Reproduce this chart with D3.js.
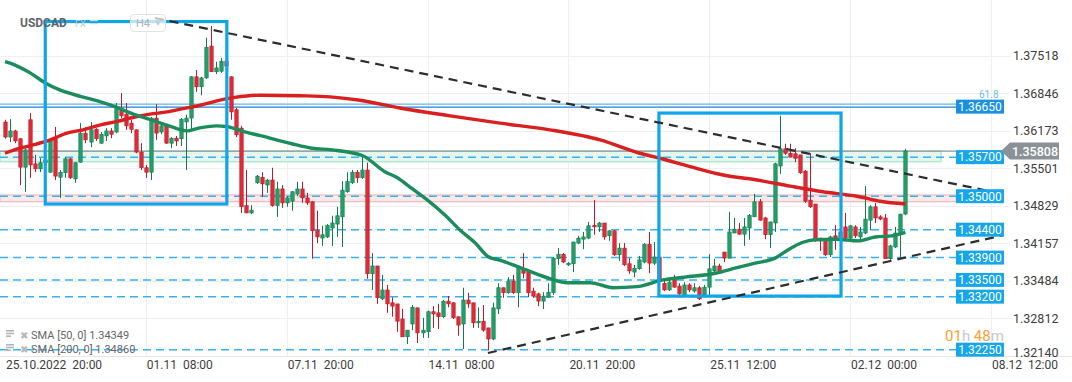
<!DOCTYPE html>
<html>
<head>
<meta charset="utf-8">
<script src="https://cdn.jsdelivr.net/npm/d3@7"></script>
<style>
body { margin: 0; background: #fff; }
svg { display: block; font-family: Roboto, "Noto Sans", sans-serif; }
text { white-space: pre; }
</style>
</head>
<body>
<script>
// USDCAD H4
const symbol = "USDCAD"
const timeLabels = ["25.10.2022  20:00", "01.11  08:00", "07.11  20:00", "14.11  08:00", "20.11  20:00", "25.11  12:00", "02.12  00:00", "08.12  12:00"]
const timeTickIdx = [0, 28, 56, 84, 112, 140, 168, 196]
const priceTicks = [1.37518, 1.36846, 1.36173, 1.35501, 1.34829, 1.34157, 1.33484, 1.32812, 1.32140]
const levels = [1.3570, 1.3500, 1.3440, 1.3390, 1.3350, 1.3320, 1.3225]
const fibLevel = 1.3665
const lastPrice = 1.35808

const open = [1.3633,1.3606,1.3617,1.3603,1.3552,1.3637,1.3558,1.3549,1.3560,1.3543,
1.3603,1.3534,1.3542,1.3567,1.3531,1.3561,1.3613,1.3597,1.3620,1.3595,
1.3608,1.3617,1.3615,1.3655,1.3647,1.3631,1.3619,1.3579,1.3551,1.3543,
1.3640,1.3615,1.3626,1.3595,1.3604,1.3603,1.3633,1.3640,1.3714,1.3696,
1.3712,1.3769,1.3723,1.3724,1.3742,1.3714,1.3655,1.3622,1.3483,1.3470,
1.3524,1.3534,1.3520,1.3529,1.3483,1.3513,1.3488,1.3491,1.3504,1.3513,
1.3497,1.3490,1.3439,1.3425,1.3427,1.3443,1.3450,1.3463,1.3508,1.3524,
1.3543,1.3533,1.3547,1.3361,1.3375,1.3316,1.3332,1.3309,1.3307,1.3280,
1.3248,1.3271,1.3300,1.3255,1.3257,1.3293,1.3291,1.3284,1.3312,1.3309,
1.3284,1.3271,1.3314,1.3309,1.3273,1.3276,1.3264,1.3244,1.3298,1.3336,
1.3327,1.3348,1.3327,1.3370,1.3364,1.3330,1.3325,1.3312,1.3319,1.3327,
1.3388,1.3396,1.3377,1.3379,1.3416,1.3423,1.3425,1.3448,1.3445,1.3452,
1.3429,1.3438,1.3395,1.3407,1.3379,1.3364,1.3370,1.3382,1.3414,1.3380,
1.3391,1.3344,1.3332,1.3350,1.3339,1.3323,1.3341,1.3330,1.3336,1.3323,
1.3337,1.3366,1.3375,1.3400,1.3389,1.3434,1.3441,1.3432,1.3443,1.3463,
1.3490,1.3461,1.3431,1.3452,1.3554,1.3585,1.3577,1.3576,1.3574,1.3545,
1.3493,1.3486,1.3425,1.3422,1.3395,1.3429,1.3422,1.3445,1.3425,1.3445,
1.3427,1.3434,1.3457,1.3481,1.3463,1.3461,1.3388,1.3409,1.3434,1.3468]

const high = [1.3637,1.3638,1.3619,1.3604,1.3586,1.3649,1.3574,1.3568,1.3570,1.3601,
1.3624,1.3547,1.3570,1.3568,1.3561,1.3631,1.3624,1.3633,1.3622,1.3615,
1.3622,1.3622,1.3667,1.3685,1.3667,1.3637,1.3620,1.3595,1.3556,1.3642,
1.3665,1.3628,1.3628,1.3606,1.3608,1.3640,1.3646,1.3715,1.3726,1.3714,
1.3784,1.3805,1.3741,1.3748,1.3750,1.3715,1.3658,1.3626,1.3547,1.3484,
1.3538,1.3543,1.3531,1.3551,1.3526,1.3520,1.3500,1.3509,1.3526,1.3526,
1.3506,1.3491,1.3474,1.3447,1.3450,1.3465,1.3481,1.3527,1.3543,1.3547,
1.3547,1.3570,1.3560,1.3398,1.3375,1.3359,1.3341,1.3319,1.3307,1.3298,
1.3260,1.3305,1.3300,1.3282,1.3295,1.3303,1.3307,1.3314,1.3321,1.3310,
1.3284,1.3336,1.3327,1.3309,1.3301,1.3305,1.3264,1.3309,1.3344,1.3336,
1.3355,1.3359,1.3375,1.3398,1.3364,1.3336,1.3327,1.3328,1.3344,1.3391,
1.3407,1.3398,1.3382,1.3418,1.3429,1.3436,1.3454,1.3493,1.3454,1.3452,
1.3439,1.3439,1.3416,1.3416,1.3389,1.3377,1.3393,1.3416,1.3436,1.3418,
1.3395,1.3348,1.3352,1.3359,1.3344,1.3346,1.3344,1.3344,1.3339,1.3341,
1.3396,1.3388,1.3379,1.3400,1.3472,1.3461,1.3452,1.3461,1.3468,1.3504,
1.3495,1.3463,1.3454,1.3560,1.3644,1.3594,1.3594,1.3586,1.3574,1.3547,
1.3577,1.3486,1.3425,1.3423,1.3429,1.3448,1.3443,1.3470,1.3448,1.3448,
1.3445,1.3518,1.3484,1.3488,1.3466,1.3468,1.3413,1.3445,1.3468,1.3585]

const low = [1.3603,1.3597,1.3595,1.3520,1.3508,1.3533,1.3543,1.3543,1.3551,1.3542,
1.3529,1.3497,1.3533,1.3531,1.3524,1.3560,1.3595,1.3588,1.3599,1.3594,
1.3599,1.3604,1.3613,1.3640,1.3619,1.3613,1.3577,1.3547,1.3533,1.3529,
1.3601,1.3611,1.3594,1.3586,1.3590,1.3590,1.3547,1.3619,1.3687,1.3681,
1.3710,1.3723,1.3719,1.3721,1.3726,1.3637,1.3606,1.3470,1.3470,1.3468,
1.3522,1.3499,1.3506,1.3481,1.3463,1.3479,1.3481,1.3474,1.3500,1.3488,
1.3484,1.3388,1.3416,1.3411,1.3425,1.3411,1.3427,1.3409,1.3506,1.3522,
1.3524,1.3531,1.3352,1.3332,1.3307,1.3314,1.3291,1.3284,1.3257,1.3248,
1.3235,1.3260,1.3237,1.3246,1.3246,1.3264,1.3262,1.3282,1.3301,1.3280,
1.3250,1.3226,1.3300,1.3264,1.3264,1.3257,1.3224,1.3242,1.3289,1.3318,
1.3325,1.3325,1.3301,1.3353,1.3319,1.3318,1.3303,1.3298,1.3318,1.3323,
1.3377,1.3380,1.3375,1.3364,1.3414,1.3405,1.3423,1.3431,1.3436,1.3422,
1.3420,1.3393,1.3384,1.3375,1.3361,1.3355,1.3368,1.3380,1.3362,1.3377,
1.3344,1.3330,1.3330,1.3336,1.3323,1.3319,1.3328,1.3327,1.3314,1.3319,
1.3323,1.3362,1.3361,1.3382,1.3389,1.3434,1.3431,1.3411,1.3422,1.3463,
1.3456,1.3423,1.3407,1.3436,1.3540,1.3574,1.3570,1.3561,1.3540,1.3488,
1.3479,1.3418,1.3402,1.3393,1.3391,1.3404,1.3418,1.3422,1.3422,1.3425,
1.3422,1.3432,1.3439,1.3452,1.3457,1.3388,1.3386,1.3407,1.3391,1.3466]

const close = [1.3606,1.3617,1.3599,1.3552,1.3583,1.3556,1.3549,1.3560,1.3565,1.3599,
1.3536,1.3543,1.3567,1.3533,1.3560,1.3613,1.3601,1.3619,1.3603,1.3611,
1.3617,1.3611,1.3658,1.3644,1.3626,1.3620,1.3579,1.3551,1.3543,1.3640,
1.3613,1.3626,1.3595,1.3604,1.3599,1.3638,1.3640,1.3714,1.3696,1.3712,
1.3767,1.3723,1.3730,1.3742,1.3733,1.3651,1.3610,1.3481,1.3470,1.3475,
1.3536,1.3522,1.3529,1.3483,1.3513,1.3488,1.3497,1.3508,1.3513,1.3497,
1.3488,1.3438,1.3427,1.3431,1.3448,1.3452,1.3465,1.3511,1.3526,1.3543,
1.3533,1.3547,1.3361,1.3375,1.3318,1.3332,1.3307,1.3303,1.3276,1.3248,
1.3260,1.3301,1.3255,1.3260,1.3293,1.3289,1.3284,1.3312,1.3307,1.3282,
1.3269,1.3314,1.3307,1.3273,1.3276,1.3260,1.3244,1.3300,1.3336,1.3327,
1.3348,1.3327,1.3373,1.3362,1.3327,1.3321,1.3312,1.3321,1.3328,1.3389,
1.3396,1.3382,1.3380,1.3418,1.3425,1.3427,1.3447,1.3445,1.3452,1.3427,
1.3438,1.3395,1.3407,1.3377,1.3366,1.3371,1.3386,1.3414,1.3380,1.3391,
1.3348,1.3332,1.3346,1.3337,1.3325,1.3341,1.3332,1.3336,1.3316,1.3337,
1.3370,1.3375,1.3362,1.3389,1.3436,1.3441,1.3432,1.3445,1.3466,1.3490,
1.3457,1.3431,1.3454,1.3558,1.3585,1.3577,1.3570,1.3568,1.3542,1.3491,
1.3481,1.3422,1.3420,1.3395,1.3427,1.3422,1.3436,1.3425,1.3447,1.3429,
1.3436,1.3459,1.3481,1.3461,1.3459,1.3388,1.3411,1.3434,1.3468,1.3581]

// moving averages: [candle index, price]
const sma50 = [[0,1.3741],[2,1.3735],[5,1.3721],[8,1.3703],[11,1.3690],[15,1.3679],[19,1.3669],[22,1.3660],
  [25,1.3649],[29,1.3637],[32,1.3628],[35,1.3619],[36,1.3617],[39,1.3623],[42,1.3626],[44,1.3625],[46,1.3620],
  [47,1.3617],[51,1.3608],[57,1.3594],[61,1.3586],[65,1.3583],[71,1.3573],[75.5,1.3544],[78,1.3533],[81,1.3513],
  [84,1.3493],[87.5,1.3466],[90.5,1.3439],[93.5,1.3416],[96,1.3392],[98.5,1.3385],[103,1.3370],[108.5,1.3352],
  [111.7,1.3345],[116.3,1.3345],[120.9,1.3336],[125.6,1.3338],[130.8,1.3350],[135.2,1.3355],[141.2,1.3362],
  [145.1,1.3371],[149.1,1.3380],[153.1,1.3389],[155.7,1.3404],[158.5,1.3417],[161,1.3422],[165,1.3423],
  [169.6,1.3420],[173,1.3427],[176.3,1.3429],[179,1.3435]]
const sma200 = [[0,1.3577],[3,1.3586],[5.6,1.3592],[9,1.3601],[12.3,1.3613],[15.5,1.3619],[19,1.3628],[22.3,1.3634],
  [25.4,1.3641],[28.8,1.3647],[32.2,1.3651],[35.4,1.3657],[38.8,1.3663],[42.1,1.3671],[45.7,1.3677],[50.7,1.3681],
  [58.6,1.3680],[64.6,1.3678],[70.6,1.3672],[78.5,1.3658],[88.5,1.3644],[98.4,1.3631],[108.3,1.3619],[118.3,1.3601],
  [126.2,1.3577],[130.2,1.3568],[136.2,1.3553],[142.8,1.3538],[149.5,1.3529],[156.1,1.3518],[162.6,1.3508],
  [169.4,1.3500],[174,1.3491],[179,1.3486]]

const trendDown = [[29.8,1.38194],[198.4,1.35040]]
const trendUp = [[96,1.32190],[198.6,1.34305]]
const boxes = [[8.0,44.1,1.3813,1.3486],[130.0,166.2,1.3649,1.3321]]
const zones = [[1.35808,1.35618,186.1,"#e4f6ef","#a6e3c9"],[1.35022,1.34902,189.1,"#fde9e9","#f3b9b9"]]
const legendRows = ["SMA [50, 0] 1.34349", "SMA [200, 0] 1.34860"]

const width = 1072, height = 382

const x = d3.scaleLinear().domain([0, 179]).range([5, 905.4])
const y = d3.scaleLinear().domain([1.32140, 1.37518]).range([355.8, 55.7])

const svg = d3.select("body").append("svg")
  .attr("width", width).attr("height", height)

// grid
svg.append("g").selectAll("line").data(priceTicks).join("line")
  .attr("x1", 0).attr("x2", 1010)
  .attr("y1", d => Math.round(y(d)) + 0.5).attr("y2", d => Math.round(y(d)) + 0.5)
  .attr("stroke", "#efefef")
svg.append("g").selectAll("line").data(timeTickIdx.slice(1)).join("line")
  .attr("x1", d => Math.round(x(d)) + 0.5).attr("x2", d => Math.round(x(d)) + 0.5)
  .attr("y1", 0).attr("y2", 356)
  .attr("stroke", "#efefef")
svg.append("line").attr("x1", 0).attr("x2", 1072).attr("y1", 356.5).attr("y2", 356.5).attr("stroke", "#e6e6e6")

// zones
zones.forEach(z => {
  svg.append("rect")
    .attr("x", 0).attr("y", y(z[0])).attr("width", x(z[2]))
    .attr("height", y(z[1]) - y(z[0]))
    .attr("fill", z[3]).attr("stroke", z[4]).attr("stroke-width", 1.2)
})

// level lines
svg.append("g").selectAll("line").data(levels).join("line")
  .attr("x1", 0).attr("x2", 956)
  .attr("y1", d => y(d)).attr("y2", d => y(d))
  .attr("stroke", "#35b3f0").attr("stroke-width", 1.5)
  .attr("stroke-dasharray", "8,5")
svg.append("line").attr("x1", 0).attr("x2", 956)
  .attr("y1", y(fibLevel)).attr("y2", y(fibLevel))
  .attr("stroke", "#63b4ee").attr("stroke-width", 1.3)
svg.append("line").attr("x1", 0).attr("x2", 956)
  .attr("y1", y(fibLevel) + 3).attr("y2", y(fibLevel) + 3)
  .attr("stroke", "#1f80d6").attr("stroke-width", 1.3)

// current price line
svg.append("line").attr("x1", 0).attr("x2", 1003)
  .attr("y1", y(lastPrice)).attr("y2", y(lastPrice))
  .attr("stroke", "#8c9397").attr("stroke-width", 1.2)

// candles
const candles = open.map((o, i) => ({i, o, h: high[i], l: low[i], c: close[i]}))
const up = "#22a06b", upDark = "#16784d", down = "#e22b38", downDark = "#b51d29"
const cg = svg.append("g")
cg.selectAll("line").data(candles).join("line")
  .attr("x1", d => Math.round(x(d.i)) + 0.5).attr("x2", d => Math.round(x(d.i)) + 0.5)
  .attr("y1", d => y(d.h)).attr("y2", d => y(d.l))
  .attr("stroke", d => d.c >= d.o ? upDark : downDark).attr("stroke-width", 1)
cg.selectAll("rect").data(candles).join("rect")
  .attr("x", d => Math.round(x(d.i)) - 1.2)
  .attr("y", d => y(Math.max(d.o, d.c)))
  .attr("width", 3.4)
  .attr("height", d => Math.max(1.5, Math.abs(y(d.o) - y(d.c))))
  .attr("fill", d => d.c >= d.o ? up : down)
  .attr("stroke", d => d.c >= d.o ? upDark : downDark).attr("stroke-width", 0.6)

// moving averages
const line = d3.line().x(d => x(d[0])).y(d => y(d[1])).curve(d3.curveMonotoneX)
svg.append("path").datum(sma200).attr("d", line)
  .attr("fill", "none").attr("stroke", "#d91f1f").attr("stroke-width", 3.4)
svg.append("path").datum(sma50).attr("d", line)
  .attr("fill", "none").attr("stroke", "#1b8c5c").attr("stroke-width", 3.4)

// blue boxes
svg.append("g").selectAll("rect").data(boxes).join("rect")
  .attr("x", d => x(d[0])).attr("y", d => y(d[2]))
  .attr("width", d => x(d[1]) - x(d[0])).attr("height", d => y(d[3]) - y(d[2]))
  .attr("fill", "none").attr("stroke", "#0ea5ea").attr("stroke-width", 3.2)

// trendlines
const tline = d3.line().x(d => x(d[0])).y(d => y(d[1]))
;[trendDown, trendUp].forEach(t => {
  svg.append("path").datum(t).attr("d", tline)
    .attr("fill", "none").attr("stroke", "#2d2d2d").attr("stroke-width", 2.2)
    .attr("stroke-dasharray", "9,6")
})

// level labels
const lab = svg.append("g")
;[fibLevel].concat(levels).forEach(v => {
  let yy = Math.min(y(v), 350)
  if (v === fibLevel) yy += 2.5
  lab.append("rect").attr("x", 956).attr("y", yy - 7).attr("width", 48).attr("height", 14)
    .attr("fill", v === fibLevel ? "#1990e0" : "#16a6ec")
  lab.append("text").attr("x", 980).attr("y", yy + 4.3)
    .attr("text-anchor", "middle").attr("fill", "#fff").attr("font-size", 12)
    .text(v.toFixed(5))
})
svg.append("text").attr("x", 979).attr("y", y(fibLevel) - 6.5)
  .attr("fill", "#6cbcf2").attr("font-size", 10).text("61.8")

// price axis
svg.append("g").selectAll("text").data(priceTicks).join("text")
  .attr("x", 1013).attr("y", d => Math.min(y(d), 352) + 4.5)
  .attr("fill", "#3d3d3d").attr("font-size", 12.5)
  .text(d => d.toFixed(5))

// last price tag
const ty = y(lastPrice)
svg.append("path")
  .attr("d", `M1001,${ty} L1010,${ty - 8.5} L1059,${ty - 8.5} L1059,${ty + 8.5} L1010,${ty + 8.5} Z`)
  .attr("fill", "#8a9297")
svg.append("text").attr("x", 1035).attr("y", ty + 4.5).attr("text-anchor", "middle")
  .attr("fill", "#fff").attr("font-size", 12.5).attr("font-weight", 500).text(lastPrice.toFixed(5))

// time axis
svg.append("g").selectAll("text").data(timeTickIdx).join("text")
  .attr("x", d => x(d) + 1).attr("y", 369)
  .attr("fill", "#3d3d3d").attr("font-size", 12)
  .text((d, i) => timeLabels[i])

// countdown
const cd = svg.append("text").attr("x", 945).attr("y", 341).attr("font-size", 15)
cd.append("tspan").attr("fill", "#f6a234").text("01")
cd.append("tspan").attr("fill", "#c9c9c9").text("h ")
cd.append("tspan").attr("fill", "#f6a234").text("48")
cd.append("tspan").attr("fill", "#c9c9c9").text("m")

// legend
legendRows.forEach((t, i) => {
  const ly = 335 + i * 14
  const g = svg.append("g")
  ;[0, 3, 6].forEach(k => {
    g.append("rect").attr("x", 6).attr("y", ly - 5 + k * 0.9).attr("width", k === 6 ? 5 : 8).attr("height", 1.6).attr("fill", "#b5b5b5")
  })
  g.append("text").attr("x", 20).attr("y", ly + 4).attr("fill", "#b8b8b8").attr("font-size", 10).text("✖")
  g.append("text").attr("x", 31).attr("y", ly + 4).attr("fill", "#666").attr("font-size", 11).text(t)
})

// header
svg.append("text").attr("x", 20).attr("y", 27).attr("fill", "#606469")
  .attr("font-size", 12).attr("font-weight", 700).text(symbol)
svg.append("text").attr("x", 75).attr("y", 27).attr("fill", "#c4c4c4")
  .attr("font-size", 9).text("FX")
;[0, 3].forEach(k => svg.append("rect").attr("x", 90).attr("y", 20 + k).attr("width", 8).attr("height", 1.2).attr("fill", "#d0d0d0"))
svg.append("rect").attr("x", 130.5).attr("y", 14.5).attr("width", 35).attr("height", 17).attr("rx", 3)
  .attr("fill", "#fff").attr("fill-opacity", 0.7).attr("stroke", "#e2e2e2")
svg.append("text").attr("x", 136).attr("y", 27).attr("fill", "#b0b0b0").attr("font-size", 11).text("H4")
svg.append("text").attr("x", 154).attr("y", 26).attr("fill", "#c8c8c8").attr("font-size", 8).text("▼")
</script>
</body>
</html>
